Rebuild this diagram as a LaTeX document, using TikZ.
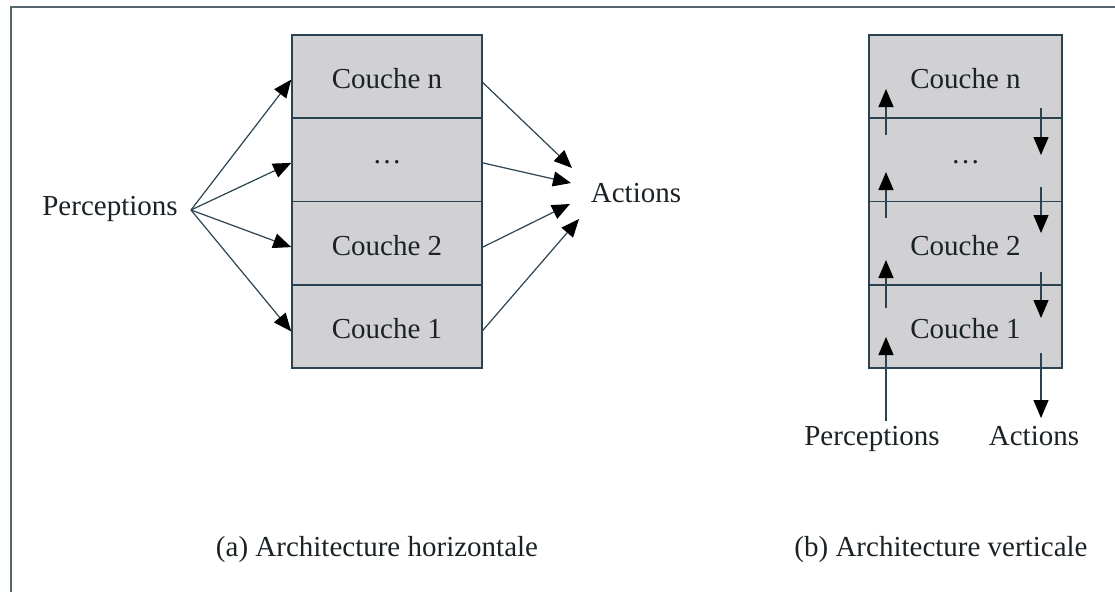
\documentclass[tikz,border=0pt]{standalone}
\usepackage{fontspec}
\setmainfont{Liberation Serif}
\usetikzlibrary{arrows.meta}
\definecolor{linecol}{HTML}{2B4350}
\definecolor{layerfill}{HTML}{D1D1D4}
\definecolor{framecol}{HTML}{55666E}
\definecolor{textcol}{HTML}{1A2226}
\tikzset{
  layer/.style={draw=linecol, line width=1.6pt, fill=layerfill, minimum height=83.25pt,
    inner sep=0pt, text height=24pt, text depth=0pt, text=textcol, font=\fontsize{29}{34}\selectfont},
  leftlayer/.style={layer, minimum width=190pt},
  rightlayer/.style={layer, minimum width=193pt},
  lbl/.style={inner sep=0pt, anchor=base, text=textcol, font=\fontsize{29}{34}\selectfont},
  arr/.style={draw=linecol, line width=1.2pt, -{Triangle[length=18pt,width=15pt,color=black]}},
}
\begin{document}
\begin{tikzpicture}[x=1pt,y=-1pt]
\useasboundingbox (0,0) rectangle (1115,592);
% frame
\draw[framecol, line width=2pt] (1115,7) -- (11,7) -- (11,592);
% ---- left: horizontal architecture
\node[leftlayer] (Ln) at (387,76.6) {Couche n};
\node[leftlayer, text height=8pt] (Ld) at (387,159.9) {\dots};
\node[leftlayer] (L2) at (387,243.1) {Couche 2};
\node[leftlayer] (L1) at (387,326.4) {Couche 1};
\node[lbl] (perc) at (110,215) {Perceptions};
\node[lbl] (act) at (636,202) {Actions};
\coordinate (po) at (191,210);
\draw[arr] (po) -- ([yshift=-3pt]Ln.west);
\draw[arr] (po) -- ([yshift=-3pt]Ld.west);
\draw[arr] (po) -- ([yshift=-4pt]L2.west);
\draw[arr] (po) -- ([yshift=-5pt]L1.west);
\coordinate (a1) at (572,168);
\coordinate (a2) at (571,183);
\coordinate (a3) at (570,204);
\coordinate (a4) at (579,219);
\draw[arr] ([yshift=-6pt]Ln.east) -- (a1);
\draw[arr] ([yshift=-3pt]Ld.east) -- (a2);
\draw[arr] ([yshift=-4pt]L2.east) -- (a3);
\draw[arr] ([yshift=-4pt]L1.east) -- (a4);
% ---- right: vertical architecture
\node[rightlayer] (Rn) at (965.5,76.6) {Couche n};
\node[rightlayer, text height=8pt] (Rd) at (965.5,159.9) {\dots};
\node[rightlayer] (R2) at (965.5,243.1) {Couche 2};
\node[rightlayer] (R1) at (965.5,326.4) {Couche 1};
\node[lbl] (perc2) at (872,445) {Perceptions};
\node[lbl] (act2) at (1034,445) {Actions};
% up arrows
\coordinate (u1s) at (886,135); \coordinate (u1e) at (886,89);
\coordinate (u2s) at (886,218); \coordinate (u2e) at (886,172);
\coordinate (u3s) at (886,308); \coordinate (u3e) at (886,260);
\coordinate (u4s) at (886,421); \coordinate (u4e) at (886,337);
\draw[arr] (u1s) -- (u1e);
\draw[arr] (u2s) -- (u2e);
\draw[arr] (u3s) -- (u3e);
\draw[arr] (u4s) -- (u4e);
% down arrows
\coordinate (d1s) at (1041,108); \coordinate (d1e) at (1041,155);
\coordinate (d2s) at (1041,187); \coordinate (d2e) at (1041,233);
\coordinate (d3s) at (1041,272); \coordinate (d3e) at (1041,318);
\coordinate (d4s) at (1041,353); \coordinate (d4e) at (1041,418);
\draw[arr] (d1s) -- (d1e);
\draw[arr] (d2s) -- (d2e);
\draw[arr] (d3s) -- (d3e);
\draw[arr] (d4s) -- (d4e);
% captions
\node[lbl] (capa) at (377,556) {(a) Architecture horizontale};
\node[lbl] (capb) at (941,556) {(b) Architecture verticale};
\end{tikzpicture}
\end{document}
